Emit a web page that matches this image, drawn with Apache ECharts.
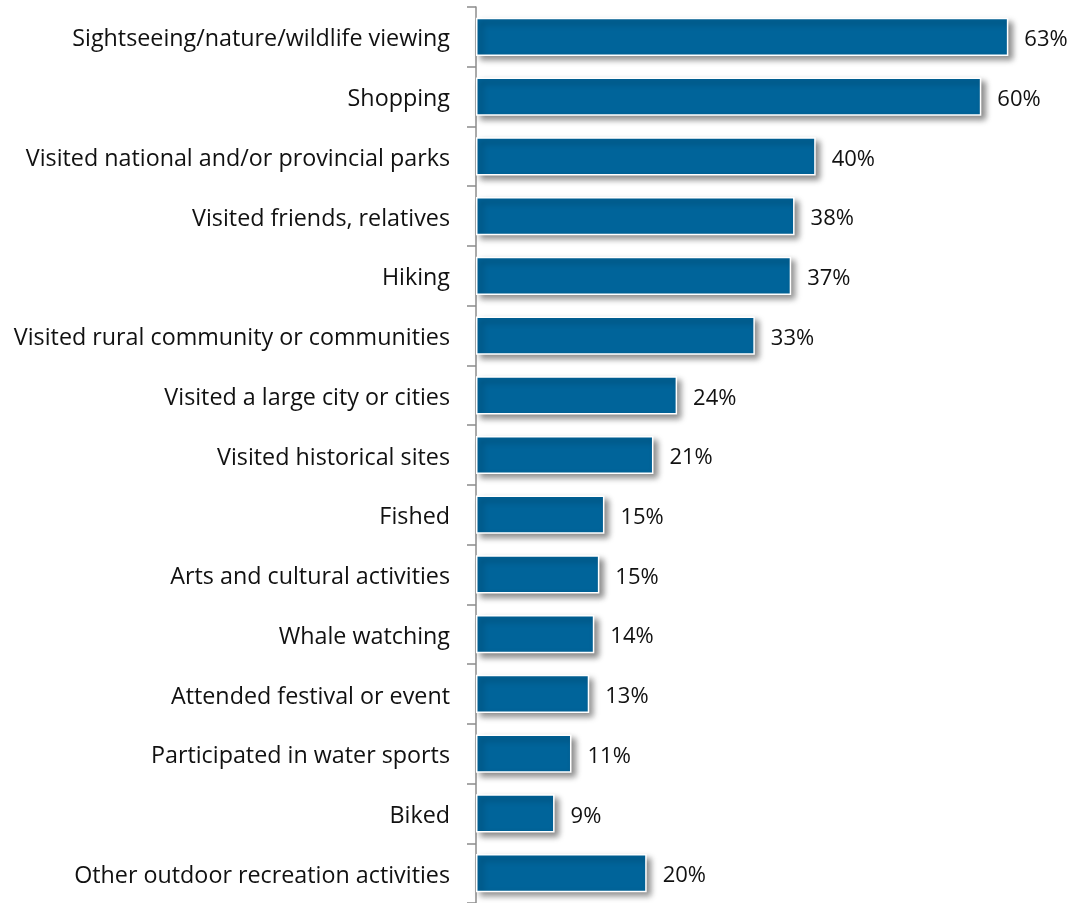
<!DOCTYPE html>
<html>
<head>
<meta charset="utf-8">
<script src="https://cdn.jsdelivr.net/npm/echarts@6/dist/echarts.min.js"></script>
<style>
html,body{margin:0;padding:0;background:#fff;}
#chart{width:1077px;height:903px;}
</style>
</head>
<body>
<div id="chart"></div>
<script>
const categories = [
  "Sightseeing/nature/wildlife viewing",
  "Shopping",
  "Visited national and/or provincial parks",
  "Visited friends, relatives",
  "Hiking",
  "Visited rural community or communities",
  "Visited a large city or cities",
  "Visited historical sites",
  "Fished",
  "Arts and cultural activities",
  "Whale watching",
  "Attended festival or event",
  "Participated in water sports",
  "Biked",
  "Other outdoor recreation activities"
];
const values = [63.0, 59.8, 40.2, 37.7, 37.3, 33.0, 23.8, 21.0, 15.2, 14.6, 14.0, 13.4, 11.3, 9.3, 20.2];

const FONT = "Open Sans";
const chart = echarts.init(document.getElementById('chart'), null, {renderer: 'canvas'});
chart.setOption({
  animation: false,
  grid: {left: 476, right: 9.5, top: 7, bottom: -4, containLabel: false},
  xAxis: {
    type: 'value', min: 0, max: 70, show: false,
    splitLine: {show: false}
  },
  yAxis: {
    type: 'category', data: categories, inverse: true,
    axisLine: {show: true, lineStyle: {color: '#8c8c8c', width: 1.5}},
    axisTick: {show: true, length: 9, lineStyle: {color: '#8c8c8c', width: 1.5}},
    axisLabel: {
      margin: 26,
      formatter: v => '{a|' + v + '}',
      rich: {a: {color: '#111', fontFamily: FONT, fontSize: 23.3, padding: [6, 0, 0, 0]}}
    }
  },
  series: [{
    type: 'bar',
    data: values,
    barCategoryGap: '36%',
    itemStyle: {
      color: '#00649a',
      borderColor: '#ffffff',
      borderWidth: 1.5,
      shadowColor: 'rgba(0,0,0,0.45)',
      shadowBlur: 6,
      shadowOffsetX: 4,
      shadowOffsetY: 4
    },
    label: {
      show: true, position: 'right', distance: 16, offset: [0, 3],
      color: '#111', fontFamily: FONT, fontSize: 22,
      formatter: p => Math.round(p.value) + '%'
    }
  }]
});
</script>
</body>
</html>
